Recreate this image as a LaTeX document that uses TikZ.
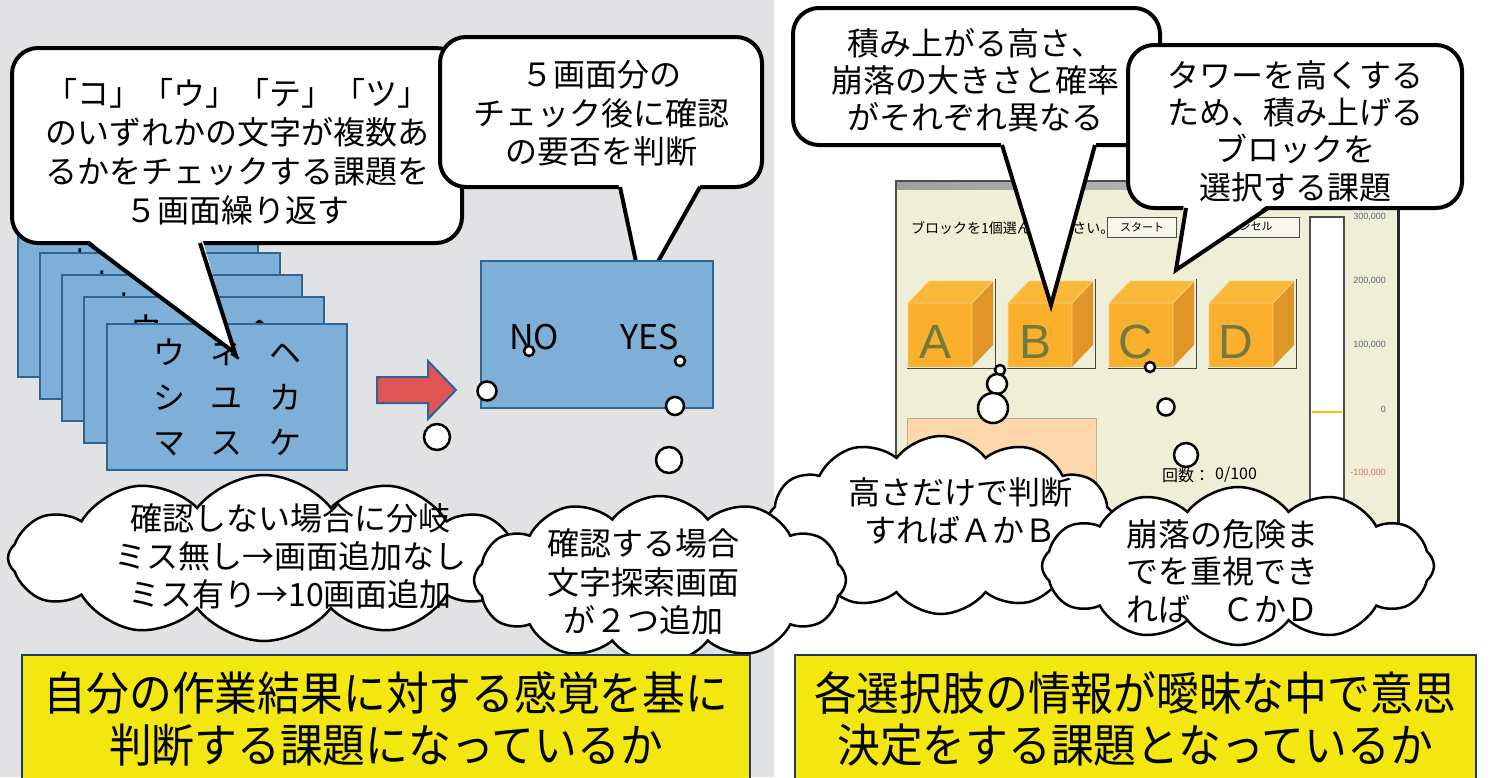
\documentclass[tikz,border=0pt]{standalone}
\usepackage{fontspec}
\setmainfont{Noto Sans CJK JP}
\newfontfamily\latinsans{Liberation Sans}
\usetikzlibrary{shapes.symbols}
\definecolor{panelgray}{HTML}{E1E2E4}
\definecolor{cardfill}{HTML}{7EB0D7}
\definecolor{carddraw}{HTML}{2F6594}
\definecolor{arrowred}{HTML}{E05454}
\definecolor{winbg}{HTML}{EFEFD7}
\definecolor{cubefront}{HTML}{FBB02D}
\definecolor{cubetop}{HTML}{FAB838}
\definecolor{cubeside}{HTML}{DF9627}
\definecolor{cubeedge}{HTML}{F6D48C}
\definecolor{cubeletter}{HTML}{737A3E}
\definecolor{peach}{HTML}{FDD8AC}
\definecolor{boxyellow}{HTML}{F2E80F}
\definecolor{boxedge}{HTML}{22395A}
\definecolor{scaletext}{HTML}{56657A}
\definecolor{scalered}{HTML}{E86A6A}
\definecolor{gaugeline}{HTML}{FFC000}

% one block button with a cube: #1 name, #2 x, #3 y of the front face's top-left corner, #4 letter
\newcommand\blockcube[4]{%
  \draw[gray!55!black, line width=1pt] (#2-1,#3+65) -- (#2+87,#3+65) -- (#2+87,#3-24);
  \fill[cubetop] (#2,#3) -- (#2+21,#3-22) -- (#2+85,#3-22) -- (#2+64,#3) -- cycle;
  \fill[cubeside] (#2+64,#3) -- (#2+85,#3-22) -- (#2+85,#3+42) -- (#2+64,#3+64) -- cycle;
  \fill[cubefront] (#2,#3) rectangle (#2+64,#3+64);
  \draw[cubeedge, line width=0.8pt] (#2,#3+64) -- (#2,#3) -- (#2+21,#3-22) -- (#2+85,#3-22)
     (#2,#3) -- (#2+64,#3) -- (#2+85,#3-22) (#2+64,#3) -- (#2+64,#3+64);
  \node[cubelbl] (#1) at (#2+27,#3+55) {#4};
}

\begin{document}
\begin{tikzpicture}[x=1pt,y=-1pt,
  card/.style={draw=carddraw, fill=cardfill, line width=2.5pt, minimum width=240pt,
    minimum height=146pt, inner sep=0pt, font=\fontsize{32}{45}\selectfont, align=center},
  cardrow/.style={inner sep=0pt, font=\fontsize{32}{32}\selectfont},
  bubble/.style={draw=black, fill=white, line width=4pt, rounded corners=26pt, inner sep=0pt},
  ptrline/.style={draw=black, line width=4pt, line join=miter, miter limit=30},
  btxt/.style={font=\fontsize{32}{#1}\selectfont, align=center, inner sep=0pt},
  thought/.style={circle, draw=black, fill=white, line width=2.5pt, inner sep=0pt},
  cloudy/.style={cloud, cloud puffs=#1, cloud puff arc=105, cloud ignores aspect, draw=black, fill=white,
    line width=2.5pt, inner sep=0pt},
  cubelbl/.style={anchor=base, font=\latinsans\fontsize{48}{48}\selectfont, text=cubeletter, inner sep=0pt},
  scalelbl/.style={anchor=east, font=\latinsans\fontsize{9}{9}\selectfont, text=scaletext, inner sep=0pt},
  winbtn/.style={draw=gray!60!black, fill=winbg!50!white, line width=1pt, inner sep=0pt,
    font=\fontsize{11}{11}\selectfont},
  ybox/.style={draw=boxedge, fill=boxyellow, line width=1.5pt},
  ytxt/.style={font=\fontsize{46}{52}\selectfont, align=center, inner sep=0pt, transform shape, xscale=0.93},
]
\useasboundingbox (0,0) rectangle (1509,777);

% ---------- panels ----------
\fill[panelgray] (0,0) rectangle (774,777);
\fill[white] (774,0) rectangle (1509,777);

% ---------- stack of character screens ----------
% back screens: only the top row can peek out from behind the next screen
\foreach \i/\cx/\cy in {1/138/304, 2/160/326, 3/182/348, 4/204/370}{
  \node[card] (k\i) at (\cx,\cy) {};
  \node[cardrow] (k\i r) at (\cx,\cy-42) {ウ\hspace{26pt}ネ\hspace{26pt}ヘ};
}
\node[card] (k5) at (227,397)
  {ウ\hspace{26pt}ネ\hspace{26pt}ヘ\\シ\hspace{26pt}ユ\hspace{26pt}カ\\マ\hspace{26pt}ス\hspace{26pt}ケ};

% ---------- callout: repeated check ----------
\node[bubble, minimum width=450pt, minimum height=195pt] (c1) at (237,145.5) {};
\coordinate (c1tip) at (235,353);
\fill[white] (86,238) -- (202,238) -- (c1tip) -- cycle;
\draw[ptrline] (88,243) -- (c1tip) -- (200,243);
\node[btxt=39] (c1t) at (237,151.5)
  {「コ」「ウ」「テ」「ツ」\\のいずれかの文字が複数あ\\るかをチェックする課題を\\５画面繰り返す};

% ---------- callout: confirmation decision ----------
\node[bubble, minimum width=322pt, minimum height=150pt] (c2) at (601,112) {};
\coordinate (c2tip) at (642,290);
\fill[white] (618,182) -- (702,182) -- (c2tip) -- cycle;
\draw[ptrline] (620,187) -- (c2tip) -- (700,187);
\node[btxt=38.5] (c2t) at (601,113.5) {５画面分の\\チェック後に確認\\の要否を判断};

% ---------- arrow and confirmation screen ----------
\draw[fill=arrowred, draw=carddraw, line width=2pt, line join=miter]
  (377,377) -- (428,377) -- (428,361) -- (456,390) -- (428,419) -- (428,403) -- (377,403) -- cycle;
\node[card, minimum width=232pt, minimum height=147pt] (k6) at (597,334.5) {};
\node[anchor=base, inner sep=0pt, font=\fontsize{34}{34}\selectfont] (no) at (534,349) {NO};
\node[anchor=base, inner sep=0pt, font=\fontsize{34}{34}\selectfont] (yes) at (650,349) {YES};

% thought bubbles from NO and YES
\node[thought, minimum size=10pt] (n1) at (529,351) {};
\node[thought, minimum size=19pt] (n2) at (487,391) {};
\node[thought, minimum size=26pt] (n3) at (437,437) {};
\node[thought, minimum size=10pt] (y1) at (680,361) {};
\node[thought, minimum size=18pt] (y2) at (675,406) {};
\node[thought, minimum size=26pt] (y3) at (669,460) {};

% ---------- clouds, left panel ----------
\node[cloudy=12, minimum width=512pt, minimum height=166pt] (cl1) at (264,558) {};
\node[btxt=38] (cl1t) at (290,556) {確認しない場合に分岐\\ミス無し→画面追加なし\\ミス有り→10画面追加};

% ---------- tower game window ----------
\fill[winbg] (896,181) rectangle (1398,560);
\shade[left color=gray!75, right color=gray!45] (896,181) rectangle (1398,189);
\draw[gray!60!black, line width=1.5pt] (896,560) -- (896,181) -- (1398,181);
\draw[black!85, line width=3pt] (1398,181) -- (1398,560);
\node[anchor=west, inner sep=0pt, font=\fontsize{14}{14}\selectfont] (prompt) at (911,228) {ブロックを1個選んでください。};
\node[winbtn, minimum width=69pt, minimum height=20pt] (bstart) at (1142,227) {スタート};
\node[winbtn, minimum width=108pt, minimum height=20pt] (bcancel) at (1245,227) {キャンセル};
\blockcube{ca}{908}{303}{A}
\blockcube{cb}{1008}{303}{B}
\blockcube{cc}{1109}{303}{C}
\blockcube{cd}{1209}{303}{D}
\fill[peach] (907,418) rectangle (1096,560);
\draw[peach!80!black, line width=0.8pt] (907,560) -- (907,418) -- (1096,418) -- (1096,560);
\node[anchor=west, inner sep=0pt, font=\fontsize{16}{16}\selectfont] (count) at (1162,475) {回数：};
\node[anchor=west, inner sep=0pt, font=\fontsize{16}{16}\selectfont] (countv) at (1215,475) {0/100};
% height gauge
\fill[white] (1310,217) rectangle (1344,560);
\draw[gray!60!black, line width=1.2pt] (1310,560) -- (1310,217) -- (1344,217) -- (1344,560);
\draw[gaugeline, line width=2pt] (1312,412) -- (1342,412);
\node[scalelbl] (s3) at (1386,217) {300,000};
\node[scalelbl] (s2) at (1386,281) {200,000};
\node[scalelbl] (s1) at (1386,345) {100,000};
\node[scalelbl] (s0) at (1386,409) {0};
\node[scalelbl, text=scalered] (sm) at (1386,473) {-100,000};

% ---------- callout: block properties ----------
\node[bubble, minimum width=367pt, minimum height=137pt] (c3) at (976.5,76.5) {};
\coordinate (c3tip) at (1051,305);
\fill[white] (1000,140) -- (1097,140) -- (c3tip) -- cycle;
\draw[ptrline] (1002,145) -- (c3tip) -- (1095,145);
\node[btxt=37] (c3t) at (975,80) {積み上がる高さ、\\崩落の大きさと確率\\がそれぞれ異なる};

% ---------- callout: task description ----------
\node[bubble, minimum width=334pt, minimum height=163pt] (c4) at (1295,126.5) {};
\coordinate (c4tip) at (1176,270);
\fill[white] (1184,203) -- (1270,203) -- (c4tip) -- cycle;
\draw[ptrline] (1186,208) -- (c4tip) -- (1268,208);
\node[btxt=37.3] (c4t) at (1295,131) {タワーを高くする\\ため、積み上げる\\ブロックを\\選択する課題};

% ---------- clouds, right panel ----------
\node[cloudy=12, minimum width=350pt, minimum height=178pt] (cl3) at (941,525) {};
\node[btxt=38] (cl3t) at (960,511) {高さだけで判断\\すればＡかＢ};
\node[cloudy=12, minimum width=372pt, minimum height=168pt] (cl2) at (660,580) {};
\node[btxt=38.5] (cl2t) at (643,582) {確認する場合\\文字探索画面\\が２つ追加};

\node[thought, minimum size=10pt] (b1) at (1000,370) {};
\node[thought, minimum size=20pt] (b2) at (997,384) {};
\node[thought, minimum size=30pt] (b3) at (993,408) {};
\node[thought, minimum size=10pt] (d1) at (1150,367) {};
\node[thought, minimum size=17pt] (d2) at (1166,407) {};
\node[thought, minimum size=24pt] (d3) at (1186,455) {};

\node[cloudy=12, minimum width=392pt, minimum height=158pt] (cl4) at (1238,566) {};
\node[btxt=37.5] (cl4t) at (1222,571) {崩落の危険ま\\でを重視でき\\れば　ＣかＤ};

% ---------- summary boxes ----------
\draw[ybox] (22,655) rectangle (750,790);
\node[ytxt] (y1t) at (386,719) {自分の作業結果に対する感覚を基に\\判断する課題になっているか};
\draw[ybox] (795,655) rectangle (1476,790);
\node[ytxt] (y2t) at (1135,719) {各選択肢の情報が曖昧な中で意思\\決定をする課題となっているか};
\end{tikzpicture}
\end{document}
